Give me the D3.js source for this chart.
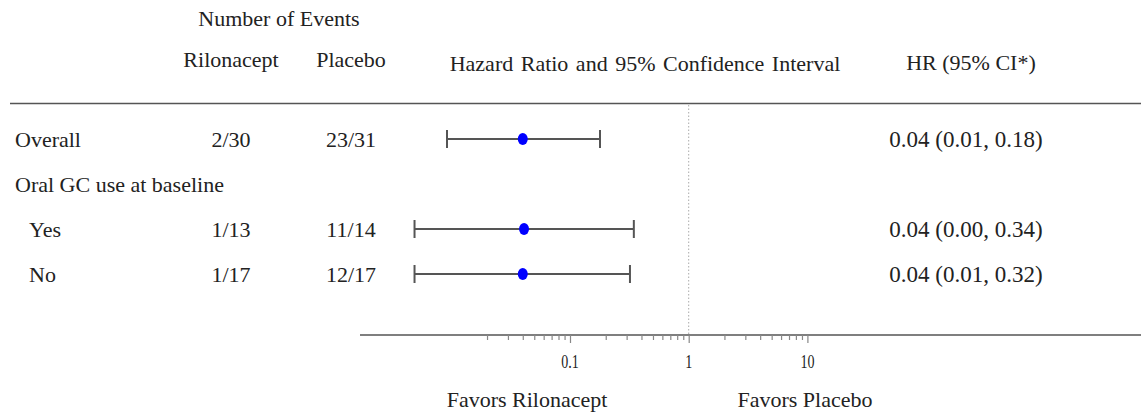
<!DOCTYPE html>
<html lang="en">
<head>
<meta charset="UTF-8">
<title>forest plot</title>
<script src="https://d3js.org/d3.v7.min.js"></script>
<style>
  body { margin: 0; background: #fff; }
  text { font-family: "Liberation Serif", "Times New Roman", serif; fill: #222; }
</style>
</head>
<body>
<div id="fig"></div>
<script>
// data
let labels = ["Overall", "Oral GC use at baseline", "Yes", "No"]
let indent = [0, 0, 1, 1]
let rilonEvents = ["2/30", "", "1/13", "1/17"]
let placeboEvents = ["23/31", "", "11/14", "12/17"]
let hr = [0.04, null, 0.041, 0.04]
let lower = [0.0092, null, 0.0049, 0.0049]
let upper = [0.179, null, 0.345, 0.32]
let hrText = ["0.04 (0.01, 0.18)", "", "0.04 (0.00, 0.34)", "0.04 (0.01, 0.32)"]
let majorTicks = [0.1, 1, 10]
let minorTicks = [0.02,0.03,0.04,0.05,0.06,0.07,0.08,0.09,0.2,0.3,0.4,0.5,0.6,0.7,0.8,0.9,2,3,4,5,6,7,8,9]

let W = 1141, H = 416
let fs = 22
let svg = d3.select("#fig").append("svg")
    .attr("width", W).attr("height", H)

let x = d3.scaleLog().domain([0.01, 10]).range([451.3, 807.4])
let y = d3.scalePoint().domain(d3.range(labels.length)).range([139, 274])

// column headers
svg.append("text").attr("x", 279).attr("y", 26).attr("text-anchor", "middle")
    .style("font-size", fs + "px").text("Number of Events")
svg.append("text").attr("x", 231).attr("y", 67).attr("text-anchor", "middle")
    .style("font-size", fs + "px").text("Rilonacept")
svg.append("text").attr("x", 351).attr("y", 67).attr("text-anchor", "middle")
    .style("font-size", fs + "px").text("Placebo")
svg.append("text").attr("x", 645).attr("y", 71).attr("text-anchor", "middle")
    .style("font-size", fs + "px").style("word-spacing", "2px")
    .text("Hazard Ratio and 95% Confidence Interval")
svg.append("text").attr("x", 971).attr("y", 70).attr("text-anchor", "middle")
    .style("font-size", fs + "px").text("HR (95% CI*)")

// header rule
svg.append("line").attr("x1", 10).attr("x2", W).attr("y1", 103.5).attr("y2", 103.5)
    .attr("stroke", "#555").attr("stroke-width", 1.6)

// reference line at HR = 1
svg.append("line").attr("x1", x(1)).attr("x2", x(1)).attr("y1", 105).attr("y2", 334)
    .attr("stroke", "#aaa").attr("stroke-width", 1).attr("stroke-dasharray", "1.5,2")

let rows = svg.append("g").selectAll("g").data(d3.range(labels.length)).join("g")

rows.append("text").attr("x", i => indent[i] ? 29 : 15).attr("y", i => y(i) + 7.5)
    .style("font-size", fs + "px").text(i => labels[i])
rows.append("text").attr("x", 231).attr("y", i => y(i) + 7.5).attr("text-anchor", "middle")
    .style("font-size", fs + "px").text(i => rilonEvents[i])
rows.append("text").attr("x", 351).attr("y", i => y(i) + 7.5).attr("text-anchor", "middle")
    .style("font-size", fs + "px").text(i => placeboEvents[i])
rows.append("text").attr("x", 966).attr("y", i => y(i) + 7.5).attr("text-anchor", "middle")
    .style("font-size", "23px").text(i => hrText[i])

let ci = rows.filter(i => hr[i] != null)
ci.append("line").attr("x1", i => x(lower[i])).attr("x2", i => x(upper[i]))
    .attr("y1", i => y(i)).attr("y2", i => y(i))
    .attr("stroke", "#555").attr("stroke-width", 2)
ci.append("line").attr("x1", i => x(lower[i])).attr("x2", i => x(lower[i]))
    .attr("y1", i => y(i) - 9).attr("y2", i => y(i) + 9)
    .attr("stroke", "#555").attr("stroke-width", 2)
ci.append("line").attr("x1", i => x(upper[i])).attr("x2", i => x(upper[i]))
    .attr("y1", i => y(i) - 9).attr("y2", i => y(i) + 9)
    .attr("stroke", "#555").attr("stroke-width", 2)
ci.append("ellipse").attr("cx", i => x(hr[i])).attr("cy", i => y(i))
    .attr("rx", 5).attr("ry", 6).attr("fill", "#0000ff")

// axis
let axisY = 335
svg.append("line").attr("x1", 360).attr("x2", W).attr("y1", axisY).attr("y2", axisY)
    .attr("stroke", "#555").attr("stroke-width", 1.6)

let minorAxis = svg.append("g").attr("transform", `translate(0,${axisY})`)
    .call(d3.axisBottom(x).tickValues(minorTicks).tickSize(5).tickFormat(""))
let majorAxis = svg.append("g").attr("transform", `translate(0,${axisY})`)
    .call(d3.axisBottom(x).tickValues(majorTicks).tickSize(8).tickFormat(""))
svg.selectAll(".domain").remove()
svg.selectAll(".tick line").attr("stroke", "#888").attr("stroke-width", 1.2)

svg.append("g").selectAll("text").data(majorTicks).join("text")
    .attr("transform", d => `translate(${x(d)},368) scale(0.78,1)`)
    .attr("text-anchor", "middle").style("font-size", "18px")
    .text(d => d3.format("")(d))

svg.append("text").attr("x", 527).attr("y", 407).attr("text-anchor", "middle")
    .style("font-size", fs + "px").text("Favors Rilonacept")
svg.append("text").attr("x", 805).attr("y", 407).attr("text-anchor", "middle")
    .style("font-size", fs + "px").text("Favors Placebo")
</script>
</body>
</html>
